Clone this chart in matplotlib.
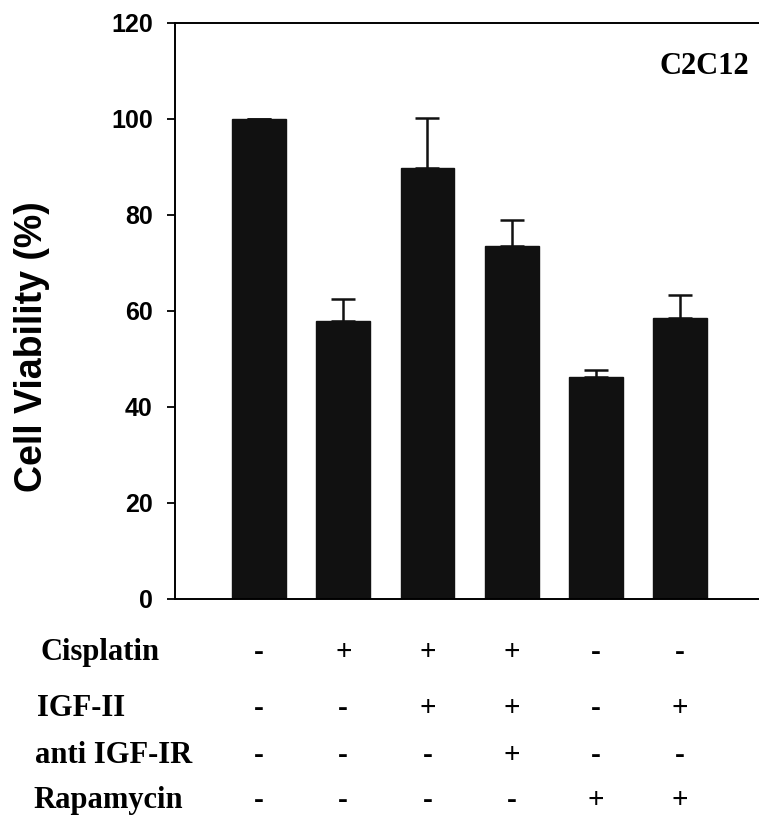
import matplotlib
matplotlib.use("Agg")
import matplotlib.pyplot as plt
import numpy as np

conditions = ["Cisplatin", "IGF-II", "anti IGF-IR", "Rapamycin"]
signs = [
    ["-", "+", "+", "+", "-", "-"],
    ["-", "-", "+", "+", "-", "+"],
    ["-", "-", "-", "+", "-", "-"],
    ["-", "-", "-", "-", "+", "+"],
]
viability = [100.0, 58.0, 89.8, 73.5, 46.2, 58.5]
err_upper = [0.0, 4.5, 10.4, 5.5, 1.6, 4.9]
yticks = [0, 20, 40, 60, 80, 100, 120]

W, H = 759, 816
fig = plt.figure(figsize=(W / 100, H / 100), dpi=100)
fig.patch.set_facecolor("white")

left = 175 / W
bottom = 1 - 599 / H
top = 1 - 23 / H
ax = fig.add_axes([left, bottom, 1.0 - left, top - bottom])

x = np.arange(len(viability))
lower = np.zeros(len(viability))
ax.bar(x, viability, width=0.64, color="#111111", edgecolor="#111111", zorder=2)
ax.errorbar(x, viability, yerr=[lower, err_upper], fmt="none", ecolor="#111111",
            elinewidth=1.8, capsize=8.3, capthick=1.8, zorder=3)

ax.set_xlim(-1.0, 5.94)
ax.set_ylim(0, 120)
ax.set_yticks(yticks)
ax.set_yticklabels([str(v) for v in yticks], fontfamily="Liberation Sans",
                   fontweight="bold", fontsize=18)
ax.set_xticks([])
ax.tick_params(axis="y", direction="out", length=6, width=1.3, pad=10)
for s in ["left", "bottom", "top"]:
    ax.spines[s].set_linewidth(1.4)
ax.spines["right"].set_visible(False)

ax.set_ylabel("Cell Viability (%)", fontfamily="Liberation Sans", fontweight="bold",
              fontsize=27)
ax.yaxis.label.set_verticalalignment("center")
ax.yaxis.set_label_coords((32 - 175) / (W - 175), (599 - 347) / 576)

ax.text(704 / W, 1 - 67 / H, "C2C12", transform=fig.transFigure, ha="center",
        va="center", fontfamily="Liberation Serif", fontweight="bold", fontsize=22)

row_base = [660, 716, 763, 808]
row_x = [40, 37, 35, 33]
for label, ry, rx, row in zip(conditions, row_base, row_x, signs):
    fig.text(rx / W, 1 - ry / H, label, ha="left", va="baseline",
             fontfamily="Liberation Serif", fontweight="bold", fontsize=22)
    for xi, s in zip(x, row):
        xd = ax.transData.transform((xi, 0))[0]
        xf = fig.transFigure.inverted().transform((xd, 0))[0]
        fig.text(xf, 1 - ry / H, s, ha="center", va="baseline",
                 fontfamily="Liberation Serif", fontweight="bold", fontsize=21)

fig.savefig("out.png", dpi=100, facecolor="white")
